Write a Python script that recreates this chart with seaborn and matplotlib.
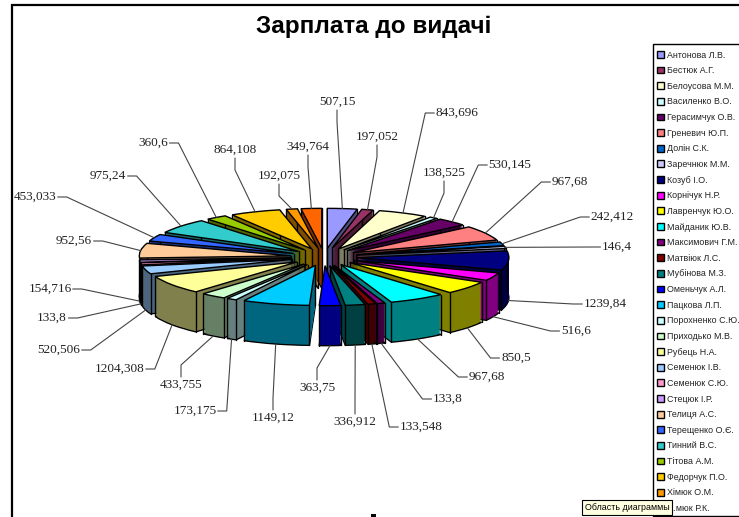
import matplotlib
matplotlib.use('Agg')
import matplotlib.pyplot as plt
import numpy as np
import seaborn as sns
from matplotlib.patches import Rectangle
from matplotlib.transforms import IdentityTransform

names = ['Антонова Л.В.', 'Бестюк А.Г.', 'Белоусова М.М.', 'Василенко В.О.', 'Герасимчук О.В.',
         'Греневич Ю.П.', 'Долін С.К.', 'Заречнюк М.М.', 'Козуб І.О.', 'Корнічук Н.Р.',
         'Лавренчук Ю.О.', 'Майданик Ю.В.', 'Максимович Г.М.', 'Матвіюк Л.С.', 'Мубінова М.З.',
         'Оменьчук А.Л.', 'Пацкова Л.П.', 'Порохненко С.Ю.', 'Приходько М.В.', 'Рубець Н.А.',
         'Семенюк І.В.', 'Семенюк С.Ю.', 'Стецюк І.Р.', 'Телиця А.С.', 'Терещенко О.Є.',
         'Тинний В.С.', 'Тітова А.М.', 'Федорчук П.О.', 'Хімюк О.М.', '…мюк Р.К.']
salary = [507.15, 197.052, 843.696, 138.525, 530.145,
          967.68, 242.412, 146.4, 1239.84, 516.6,
          850.5, 967.68, 133.8, 133.548, 336.912,
          363.75, 1149.12, 173.175, 433.755, 1204.308,
          520.506, 133.8, 154.716, 952.56, 453.033,
          975.24, 360.6, 864.108, 192.075, 349.764]
value_labels = ['507,15', '197,052', '843,696', '138,525', '530,145',
                '967,68', '242,412', '146,4', '1239,84', '516,6',
                '850,5', '967,68', '133,8', '133,548', '336,912',
                '363,75', '1149,12', '173,175', '433,755', '1204,308',
                '520,506', '133,8', '154,716', '952,56', '453,033',
                '975,24', '360,6', '864,108', '192,075', '349,764']
colors = ['#9999FF', '#993366', '#FFFFCC', '#CCFFFF', '#660066', '#FF8080', '#0066CC', '#CCCCFF',
          '#000080', '#FF00FF', '#FFFF00', '#00FFFF', '#800080', '#800000', '#008080', '#0000FF',
          '#00CCFF', '#CCFFFF', '#CCFFCC', '#FFFF99', '#99CCFF', '#FF99CC', '#CC99FF', '#FFCC99',
          '#3366FF', '#33CCCC', '#99CC00', '#FFCC00', '#FF9900', '#FF6600']

# where the value labels sit (text centre, px from top left)
label_pos = [(337, 102), (377, 137), (457, 113), (444, 173), (510, 165),
             (570, 182), (612, 217), (617, 247), (605, 304), (576, 331),
             (516, 358), (487, 377), (448, 399), (421, 427), (355, 422),
             (317, 388), (273, 418), (195, 411), (181, 385), (120, 369),
             (59, 350), (52, 318), (50, 289), (74, 241), (35, 197),
             (108, 176), (153, 143), (235, 150), (279, 176), (308, 147)]
# leader stub leaves the label vertically for these
vertical_stub = {'507,15', '197,052', '138,525', '336,912', '363,75', '1149,12', '433,755',
                 '864,108', '192,075', '349,764'}

W, H = 739, 517
cx, cy = 324, 257
sx, sy = 152, 40
depth = 40
explode = 0.217

sns.set_theme(style='white')
plt.rcParams['font.family'] = ['Liberation Sans', 'DejaVu Sans']

fig = plt.figure(figsize=(W / 100, H / 100), dpi=100)
ax = fig.add_axes([0, 0, 1, 1])
palette = sns.color_palette(colors)
dark = [tuple(c * 0.5 for c in col) for col in palette]
exp = [explode] * len(salary)

# extruded pie: stacked pies going down, far slices painted first
for d in list(range(depth, 0, -1)) + [0]:
    top = d == 0
    edge = d == depth or top
    wedges, _ = ax.pie(salary, explode=exp, colors=palette if top else dark, startangle=90,
                       counterclock=False, center=(0, -d / sy), frame=True,
                       wedgeprops={'edgecolor': 'black' if edge else 'none', 'linewidth': 1.0 if edge else 0})
    mid = np.array([np.deg2rad((w.theta1 + w.theta2) / 2) for w in wedges])
    order = np.argsort(np.argsort(-np.sin(mid)))
    for i, w in enumerate(wedges):
        w.set_zorder(10 + order[i] * 100 + (depth - d))
        # corner lines of the rim
        if top:
            c = np.array(w.center)
            pts = [c]
            for t in (w.theta1, w.theta2):
                pts.append(c + np.array([np.cos(np.deg2rad(t)), np.sin(np.deg2rad(t))]))
            for p in pts:
                ax.plot([p[0], p[0]], [p[1], p[1] - depth / sy], color='black', lw=1.0,
                        zorder=10 + order[i] * 100 + depth - 1)
    if top:
        top_wedges = wedges

ax.set_aspect('auto')
ax.set_xlim(-cx / sx, (W - cx) / sx)
ax.set_ylim((cy - H) / sy, cy / sy)
ax.axis('off')

# value labels with leaders
for i, w in enumerate(top_wedges):
    c = np.array(w.center)
    a = mid[i]
    # front slices: leader ends at the bottom of the rim
    drop = depth / sy if np.sin(a) < 0 else 0
    anchor = ax.transData.transform(c + np.array([np.cos(a), np.sin(a) - drop]))
    tx, ty = label_pos[i]
    ty = H - ty
    half = 3.1 * len(value_labels[i]) + 1
    if value_labels[i] in vertical_stub:
        side = 1 if anchor[1] > ty else -1
        xs = [tx, tx, anchor[0]]
        ys = [ty + side * 8, ty + side * 20, anchor[1]]
    else:
        side = 1 if anchor[0] > tx else -1
        xs = [tx + side * half, tx + side * (half + 9), anchor[0]]
        ys = [ty, ty, anchor[1]]
    ax.plot(xs, ys, color='#444444', lw=0.8, transform=IdentityTransform(), zorder=5000)
    ax.text(tx, ty, value_labels[i], transform=IdentityTransform(), ha='center', va='center',
            family=['Liberation Serif', 'DejaVu Serif'], fontsize=9.5, color='#222222', zorder=5001)

fig.text(374 / W, 1 - 27 / H, 'Зарплата до видачі', ha='center', va='center', fontsize=17.5,
         fontweight='bold', color='black')

# overlay in pixel coordinates: legend box, chart area lines, hover tooltip
frame = fig.add_axes([0, 0, 1, 1], facecolor='none')
frame.set_xlim(0, W)
frame.set_ylim(H, 0)
frame.axis('off')
frame.add_patch(Rectangle((653, 44), 100, 472, facecolor='white', edgecolor='black', lw=1.0,
                          clip_on=True, zorder=1))
leg = frame.legend(top_wedges, names, loc='upper left', bbox_to_anchor=(657 / W, 1 - 50.5 / H),
                   bbox_transform=fig.transFigure, frameon=False, borderaxespad=0, borderpad=0,
                   fontsize=6.4, handlelength=0.8, handleheight=0.8, handletextpad=0.28, labelspacing=0.747)
leg.set_zorder(3)
for t in leg.get_texts():
    t.set_color('#222222')
frame.plot([12, 12, W], [H, 5, 5], color='black', lw=1.6, solid_joinstyle='miter')
frame.add_patch(Rectangle((371, 514), 5, 3, color='black', lw=0))
frame.add_patch(Rectangle((582, 500), 90, 15, facecolor='#FFFFE1', edgecolor='black', lw=0.8, zorder=7))
frame.text(585, 507.5, 'Область диаграммы', fontsize=6.4, va='center', color='black', zorder=8)

fig.savefig('out.png', dpi=100)
